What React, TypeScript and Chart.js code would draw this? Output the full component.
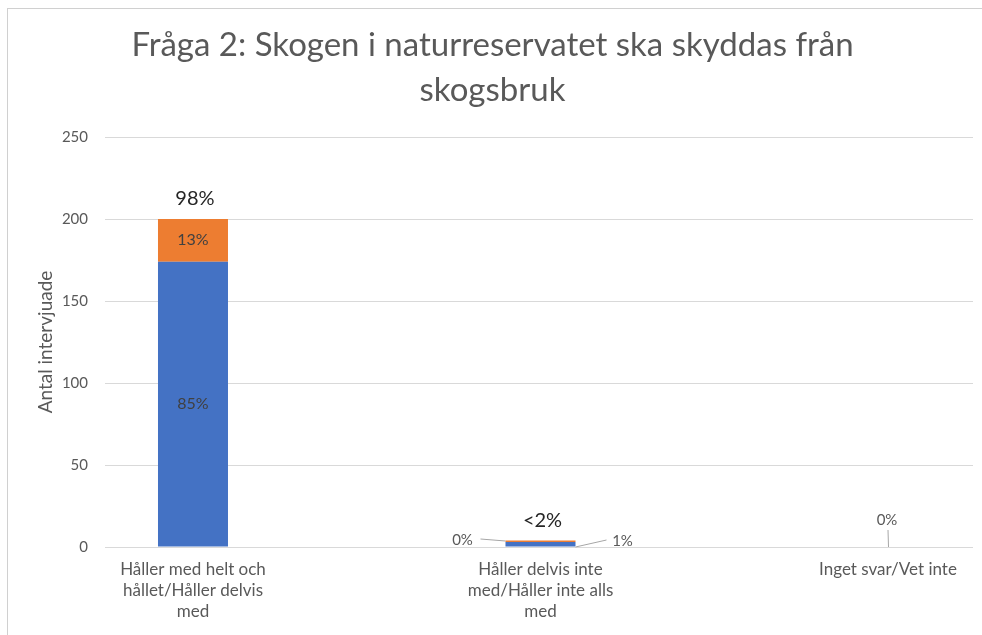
import React, { useEffect, useRef } from "react";
import { Chart, registerables } from "chart.js";

Chart.register(...registerables);

// ---------- data ----------
const titleLines = ["Fråga 2: Skogen i naturreservatet ska skyddas från", "skogsbruk"];
const yAxisTitle = "Antal intervjuade";
const categories: string[][] = [
  ["Håller med helt och", "hållet/Håller delvis", "med"],
  ["Håller delvis inte", "med/Håller inte alls", "med"],
  ["Inget svar/Vet inte"],
];
const seriesNames = ["Helt", "Delvis"];
const blueValues = [174, 3, 0];
const orangeValues = [26, 1, 0];
const blueLabels = ["85%", "1%", ""];
const orangeLabels = ["13%", "0%", "0%"];
const totalLabels = ["98%", "<2%", ""];
const yMax = 250;
const yStep = 50;

// ---------- style ----------
const FONT = "Lato";
const TEXT = "#595959";
const GRID = "#D9D9D9";
const BLUE = "#4472C4";
const ORANGE = "#ED7D31";

// leader-line placement for labels of very small bars, relative to (bar centre x, zero line y)
const leaderPlacement: Record<string, { label: [number, number]; from: [number, number]; to: [number, number] }> = {
  "1-1": { label: [-78, -7], from: [-60, -8], to: [-35, -6] },
  "0-1": { label: [82, -6], from: [35, 0], to: [66, -7] },
  "1-2": { label: [-1, -27], from: [0, -17], to: [0.5, 0] },
};

const labelPlugin = {
  id: "barLabels",
  afterDatasetsDraw(chart: any) {
    const ctx = chart.ctx;
    const zero = chart.scales.y.getPixelForValue(0);
    const sets = [blueLabels, orangeLabels];
    ctx.save();
    ctx.textAlign = "center";
    ctx.textBaseline = "middle";
    chart.data.datasets.forEach((_: any, di: number) => {
      const meta = chart.getDatasetMeta(di);
      meta.data.forEach((el: any, i: number) => {
        const text = sets[di][i];
        if (!text) return;
        const { x, y, base } = el.getProps(["x", "y", "base"], true);
        const h = Math.abs(base - y);
        if (h > 20) {
          ctx.font = `16px ${FONT}`;
          ctx.fillStyle = "#404040";
          ctx.fillText(text, x, (y + base) / 2);
          return;
        }
        const p = leaderPlacement[`${di}-${i}`];
        if (!p) return;
        ctx.strokeStyle = "#A6A6A6";
        ctx.lineWidth = 1;
        ctx.beginPath();
        ctx.moveTo(x + p.from[0], zero + p.from[1]);
        ctx.lineTo(x + p.to[0], zero + p.to[1]);
        ctx.stroke();
        ctx.font = `15px ${FONT}`;
        ctx.fillStyle = TEXT;
        ctx.fillText(text, x + p.label[0], zero + p.label[1]);
      });
    });
    const last = chart.getDatasetMeta(chart.data.datasets.length - 1);
    last.data.forEach((el: any, i: number) => {
      const t = totalLabels[i];
      if (!t) return;
      ctx.font = `20px ${FONT}`;
      ctx.fillStyle = "#262626";
      ctx.fillText(t, el.x + 2, el.y - 20);
    });
    ctx.restore();
  },
};

const xMin = -0.2532;
const xMax = 2.2446;

export default function App() {
  const ref = useRef<HTMLCanvasElement | null>(null);
  useEffect(() => {
    if (!ref.current) return;
    const chart = new Chart(ref.current, {
      type: "bar",
      data: {
        datasets: [
          {
            label: seriesNames[0],
            data: blueValues.map((v, i) => ({ x: i, y: v })),
            backgroundColor: BLUE,
            borderWidth: 0,
            inflateAmount: 0,
            barThickness: 70,
          },
          {
            label: seriesNames[1],
            data: orangeValues.map((v, i) => ({ x: i, y: v })),
            backgroundColor: ORANGE,
            borderWidth: 0,
            inflateAmount: 0,
            barThickness: 70,
          },
        ],
      },
      options: {
        animation: false,
        responsive: false,
        devicePixelRatio: 1,
        layout: { padding: { left: 12, right: 9, top: 0, bottom: 0 } },
        plugins: {
          legend: { display: false },
          tooltip: { enabled: false },
          title: {
            display: true,
            text: titleLines,
            color: TEXT,
            font: { family: FONT, size: 33, weight: "normal", lineHeight: 1.364 },
            padding: { top: 23, bottom: 24 },
          },
        },
        scales: {
          x: {
            type: "linear",
            offset: false,
            stacked: true,
            min: xMin,
            max: xMax,
            grid: { display: false },
            border: { display: false },
            afterBuildTicks: (s: any) => {
              s.ticks = categories.map((_, i) => ({ value: i }));
            },
            afterFit: (s: any) => {
              s.height = 88;
            },
            ticks: {
              autoSkip: false,
              maxRotation: 0,
              padding: 4,
              color: TEXT,
              font: { family: FONT, size: 17, lineHeight: 1.24 },
              callback: (v: any) => categories[Math.round(v)] ?? "",
            },
          },
          y: {
            stacked: true,
            min: 0,
            max: yMax,
            grid: { color: GRID, drawTicks: false },
            border: { display: false },
            afterFit: (s: any) => {
              s.width = 93;
            },
            ticks: {
              stepSize: yStep,
              padding: 17,
              color: TEXT,
              font: { family: FONT, size: 15 },
            },
            title: {
              display: true,
              text: yAxisTitle,
              color: TEXT,
              font: { family: FONT, size: 19 },
              padding: { top: 22.5, bottom: 0 },
            },
          },
        },
      } as any,
      plugins: [labelPlugin],
    });
    return () => chart.destroy();
  }, []);

  return (
    <div
      style={{
        position: "absolute",
        left: 0,
        top: 0,
        width: 982,
        height: 635,
        overflow: "hidden",
        background: "#fff",
      }}
    >
      <div
        style={{
          position: "absolute",
          left: 7,
          top: 8,
          width: 1000,
          height: 700,
          borderTop: "1px solid #D0D0D0",
          borderLeft: "1px solid #D0D0D0",
        }}
      />
      <canvas ref={ref} width={982} height={635} style={{ position: "absolute", left: 0, top: 0 }} />
    </div>
  );
}
